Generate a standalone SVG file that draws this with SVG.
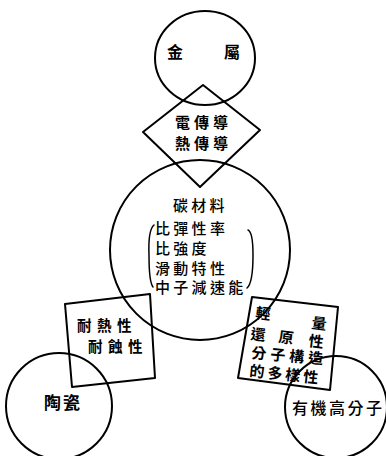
<svg xmlns="http://www.w3.org/2000/svg" width="386" height="456" viewBox="0 0 386 456">
<style>
.s{fill:none;stroke:#000;stroke-width:2;stroke-linejoin:round}
.p{fill:none;stroke:#000;stroke-width:1.5;stroke-linecap:round}
text{font-family:"Noto Sans CJK TC","Noto Sans CJK JP",sans-serif;font-weight:700;fill:#000;font-size:15px}
.d{letter-spacing:4px}
.c{letter-spacing:3.3px;font-weight:500}
.h{font-size:14.5px;letter-spacing:5.5px}
</style>
<rect width="386" height="456" fill="#fff"/>
<g id="metal">
<ellipse class="s" cx="205" cy="58" rx="50" ry="47"/>
<text x="167" y="58" style="font-size:16px">金</text>
<text x="224" y="58" style="font-size:16px">屬</text>
</g>
<g id="conduction">
<polygon class="s" points="203,85 260,130 200,187 143,132"/>
<text class="d" x="175" y="128">電傳導</text>
<text class="d" x="175" y="149">熱傳導</text>
</g>
<g id="carbon">
<circle class="s" cx="200" cy="250" r="90"/>
<text class="c" x="173" y="211">碳材料</text>
<text class="c" x="155" y="234">比彈性率</text>
<text class="c" x="155" y="254">比強度</text>
<text class="c" x="155" y="274">滑動特性</text>
<text class="c" x="155" y="293">中子減速能</text>
<path class="p" d="M154,225 Q148,230 149,255 Q149,282 153,287"/>
<path class="p" d="M248,230 Q253,232 253,255 Q253,283 247,288"/>
</g>
<g id="heat">
<polygon class="s" points="65,304 150,294 155,378 72,387"/>
<text class="h" x="77" y="331">耐熱性</text>
<text class="h" x="88" y="352">耐蝕性</text>
</g>
<g id="ceramic">
<circle class="s" cx="59" cy="406" r="53"/>
<text x="44" y="409" style="font-size:17px;letter-spacing:2px">陶瓷</text>
</g>
<g id="light">
<polygon class="s" points="252,297 338,307 330,390 238,378"/>
<text x="255" y="318" transform="rotate(7 255 318)">輕</text>
<text x="311" y="328" transform="rotate(7 311 328)">量</text>
<text x="250" y="339" transform="rotate(7 250 339)">還</text>
<text x="278" y="342" transform="rotate(7 278 342)">原</text>
<text x="308" y="346" transform="rotate(7 308 346)">性</text>
<text x="251" y="358" transform="rotate(5 251 358)" style="letter-spacing:4px">分子構造</text>
<text x="249" y="376" transform="rotate(6 249 376)" style="letter-spacing:3px">的多樣性</text>
</g>
<g id="polymer">
<circle class="s" cx="336" cy="407" r="51"/>
<text x="292" y="414" style="font-size:16px;letter-spacing:2.5px;font-weight:500">有機高分子</text>
</g>
<g id="connectors"/>
</svg>
